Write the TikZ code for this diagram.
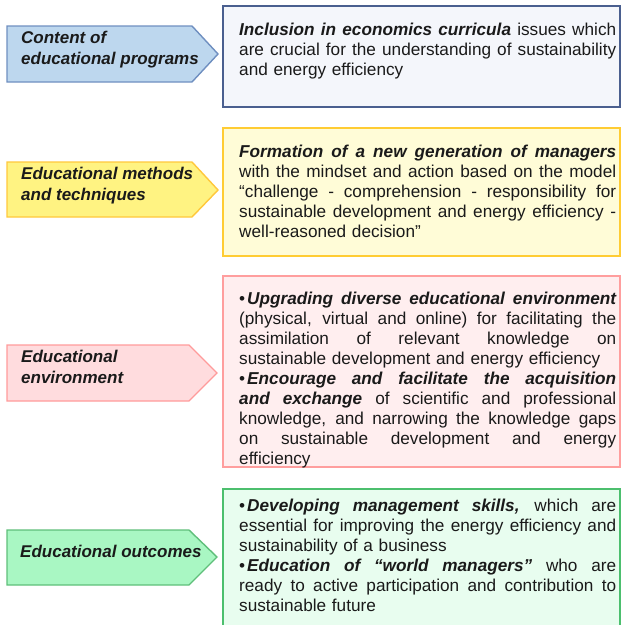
\documentclass[tikz,border=0pt]{standalone}
\usepackage{fontspec}
\setmainfont{Liberation Sans}

% fill and outline colours of the four rows
\definecolor{blueArrowFill}{HTML}{BDD7EE}
\definecolor{blueArrowLine}{HTML}{6F8FC0}
\definecolor{bluePanelFill}{HTML}{F4F6FB}
\definecolor{bluePanelLine}{HTML}{4A5F8F}
\definecolor{yellowArrowFill}{HTML}{FFF382}
\definecolor{yellowArrowLine}{HTML}{FFC83C}
\definecolor{yellowPanelFill}{HTML}{FFFCD7}
\definecolor{yellowPanelLine}{HTML}{FFCC33}
\definecolor{pinkArrowFill}{HTML}{FFDCDE}
\definecolor{pinkArrowLine}{HTML}{FF9B9B}
\definecolor{pinkPanelFill}{HTML}{FFEEEF}
\definecolor{pinkPanelLine}{HTML}{FF9E9E}
\definecolor{greenArrowFill}{HTML}{A9F7C3}
\definecolor{greenArrowLine}{HTML}{5FBF7A}
\definecolor{greenPanelFill}{HTML}{E8FDEF}
\definecolor{greenPanelLine}{HTML}{4CBF6E}
\definecolor{inkText}{HTML}{1A1A1A}

% a justified line: interword spaces stretched to the full text width
\newcommand{\fullline}[1]{\hbox to 377pt{\spaceskip=.28em plus 2em minus .05em\relax #1}}
\newcommand{\bulletmark}{{\upshape\mdseries •}\hspace{2pt}}
\newcommand{\keyterm}[1]{{\bfseries\itshape #1}}

\begin{document}
\begin{tikzpicture}[x=1pt,y=-1pt,
  arrowshape/.style={line width=1.4pt, line join=miter},
  panel/.style={line width=1.8pt},
  lbl/.style={anchor=north west, inner sep=0pt, align=left, text=inkText,
    font=\fontsize{17}{21}\selectfont\bfseries\itshape},
  body/.style={anchor=north west, inner sep=0pt, text width=377pt, align=left,
    text=inkText, font=\fontsize{17.2}{20}\selectfont}]
\useasboundingbox (0,0) rectangle (621,625);

% ---- row 1: content of educational programs
\draw[arrowshape, fill=blueArrowFill, draw=blueArrowLine]
  (7,26) -- (192,26) -- (218,54) -- (192,82) -- (7,82) -- cycle;
\node[lbl] (lab1) at (21,28.3) {\strut Content of\\educational programs};
\draw[panel, fill=bluePanelFill, draw=bluePanelLine] (223,6) rectangle (620,107);
\node[body] (txt1) at (239,21) {%
  \fullline{\strut\keyterm{Inclusion in economics curricula} issues which}
  \fullline{are crucial for the understanding of sustainability}
  \strut and energy efficiency};

% ---- row 2: educational methods and techniques
\draw[arrowshape, fill=yellowArrowFill, draw=yellowArrowLine]
  (7,162) -- (192,162) -- (218,190) -- (192,217) -- (7,217) -- cycle;
\node[lbl] (lab2) at (21,164.3) {\strut Educational methods\\and techniques};
\draw[panel, fill=yellowPanelFill, draw=yellowPanelLine] (223,128) rectangle (620,256);
\node[body] (txt2) at (239,143) {%
  \fullline{\strut\keyterm{Formation of a new generation of managers}}
  \fullline{with the mindset and action based on the model}
  \fullline{“challenge - comprehension - responsibility for}
  \fullline{sustainable development and energy efficiency -}
  \strut well-reasoned decision”};

% ---- row 3: educational environment
\draw[arrowshape, fill=pinkArrowFill, draw=pinkArrowLine]
  (7,345) -- (189,345) -- (217,373) -- (189,401) -- (7,401) -- cycle;
\node[lbl] (lab3) at (21,347.3) {\strut Educational\\environment};
\draw[panel, fill=pinkPanelFill, draw=pinkPanelLine] (223,276) rectangle (620,467);
\node[body] (txt3) at (239,290) {%
  \fullline{\strut\bulletmark\keyterm{Upgrading diverse educational environment}}
  \fullline{(physical, virtual and online) for facilitating the}
  \fullline{assimilation of relevant knowledge on}
  \hbox{\strut sustainable development and energy efficiency}
  \fullline{\bulletmark\keyterm{Encourage and facilitate the acquisition}}
  \fullline{\keyterm{and exchange} of scientific and professional}
  \fullline{knowledge, and narrowing the knowledge gaps}
  \fullline{on sustainable development and energy}
  \strut efficiency};

% ---- row 4: educational outcomes
\draw[arrowshape, fill=greenArrowFill, draw=greenArrowLine]
  (7,530) -- (189,530) -- (217,557) -- (189,585) -- (7,585) -- cycle;
\node[lbl] (lab4) at (20,542.3) {\strut Educational outcomes};
\draw[panel, fill=greenPanelFill, draw=greenPanelLine] (223,489) rectangle (620,630);
\node[body] (txt4) at (239,497) {%
  \fullline{\strut\bulletmark\keyterm{Developing management skills,} which are}
  \fullline{essential for improving the energy efficiency and}
  \hbox{\strut sustainability of a business}
  \fullline{\bulletmark\keyterm{Education of “world managers”} who are}
  \fullline{ready to active participation and contribution to}
  \strut sustainable future};
\end{tikzpicture}
\end{document}
